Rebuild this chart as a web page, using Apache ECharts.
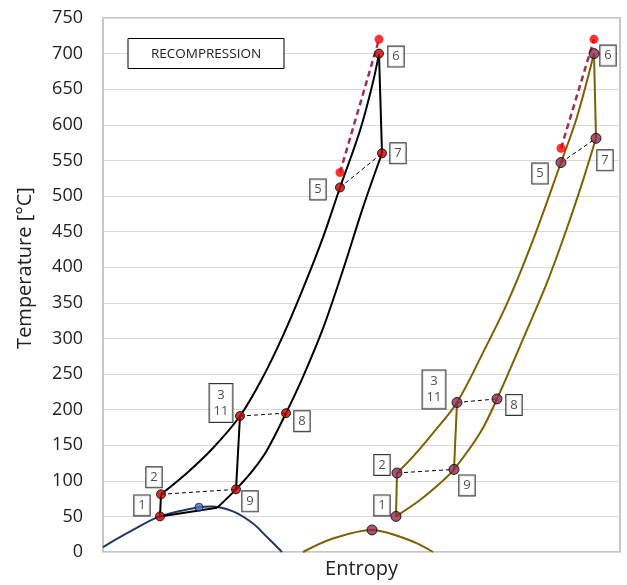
<!DOCTYPE html>
<html>
<head>
<meta charset="utf-8">
<script src="https://cdn.jsdelivr.net/npm/echarts@6/dist/echarts.min.js"></script>
<style>
  html, body { margin: 0; padding: 0; background: #fff; }
  #chart { width: 627px; height: 585px; }
</style>
</head>
<body>
<div id="chart"></div>
<script>
// Entropy in arbitrary units, temperature in °C.

// Saturation domes
const domeA = [[0.00, 7], [0.30, 31], [0.57, 50], [0.96, 63], [1.08, 64], [1.30, 57], [1.50, 40], [1.64, 21], [1.79, 0]];
const domeB = [[2.00, 0], [2.30, 19], [2.69, 31], [2.97, 21.5], [3.14, 12], [3.30, 0]];
const critA = [[0.96, 63]];
const critB = [[2.69, 31]];

// Cycle state points
const stateLabels = ['1', '2', '3\n11', '5', '6', '7', '8', '9'];
const sA = [0.57, 0.58, 1.37, 2.37, 2.76, 2.79, 1.83, 1.33];
const tA = [50, 81, 191, 512, 700, 560, 195, 88];
const sB = [2.93, 2.94, 3.54, 4.58, 4.91, 4.93, 3.94, 3.51];
const tB = [50, 111, 210, 547, 700, 581, 215, 116];

// Isentropic end states (ideal expansion)
const idealA = [[2.37, 533], [2.76, 720]];
const idealB = [[4.58, 567], [4.91, 720]];

// High-pressure isobar, 2 -> 6
const hpA = [[0.58, 81], [0.84, 111], [1.10, 146], [1.37, 191], [1.60, 246], [1.80, 304], [2.00, 370], [2.20, 442], [2.37, 512], [2.57, 592], [2.70, 660], [2.76, 700]];
const hpB = [[2.94, 111], [3.10, 134], [3.30, 167], [3.54, 210], [3.80, 280], [4.05, 352], [4.30, 438], [4.58, 547], [4.74, 611], [4.91, 700]];

// Low-pressure isobar, 1 -> 7
const lpKneeA = [[0.57, 50], [1.14, 62]];
const lpA = [[1.14, 62], [1.33, 88], [1.50, 115], [1.64, 143], [1.83, 195], [2.00, 246], [2.20, 314], [2.40, 396], [2.60, 484], [2.79, 560]];
const lpB = [[2.93, 50], [3.17, 73], [3.37, 96.5], [3.51, 116], [3.77, 167], [3.94, 215], [4.24, 312], [4.45, 382], [4.64, 455], [4.80, 522], [4.93, 581]];

// Label box placement around each state marker (pixels)
const labelOffsetA = { '1': [-18, -11], '2': [-7, -17], '3\n11': [-19, -13], '5': [-22, 2], '6': [17, 3], '7': [16, 0], '8': [16, 8], '9': [14, 12] };
const labelOffsetB = { '1': [-14, -11], '2': [-15, -8], '3\n11': [-23, -13], '5': [-21, 11], '6': [14, 2], '7': [9, 22], '8': [17, 6], '9': [13, 16] };

const FONT = '"Open Sans", "Noto Sans", sans-serif';
const BLACK = '#000000';
const GOLD = '#7F6000';
const BLUE = '#203864';
const MAROON = '#A0304F';

function state(s, t, key) {
  const i = stateLabels.indexOf(key);
  return [s[i], t[i]];
}

function curve(data, color, width, smooth) {
  return {
    type: 'line', data: data, showSymbol: false, smooth: smooth ? 0.35 : false,
    lineStyle: { color: color, width: width }, silent: true, z: 3
  };
}

function dashed(data, color, width, dash) {
  return {
    type: 'line', data: data, showSymbol: false,
    lineStyle: { color: color, width: width, type: dash }, silent: true, z: 4
  };
}

function statePoints(s, t, offsets, fill, size) {
  return {
    type: 'scatter', symbolSize: size, z: 10,
    itemStyle: { color: fill, borderColor: '#000', borderWidth: 1 },
    data: stateLabels.map((k, i) => ({
      value: [s[i], t[i]],
      label: {
        show: true, position: 'inside', formatter: k, offset: offsets[k],
        color: '#222', fontFamily: FONT, fontSize: 13, lineHeight: 16,
        backgroundColor: '#fff', borderColor: '#000', borderWidth: 1,
        padding: k.indexOf('\n') >= 0 ? [3, 4, 3, 4] : [2, 4, 2, 4], align: 'center'
      }
    }))
  };
}

const chart = echarts.init(document.getElementById('chart'), null, { renderer: 'canvas' });

chart.setOption({
  animation: false,
  backgroundColor: '#fff',
  grid: {
    left: 103, right: 7, top: 18, bottom: 33, show: true,
    borderColor: '#b4b4b4', borderWidth: 1.5, containLabel: false, outerBoundsMode: 'none'
  },
  xAxis: {
    type: 'value', min: 0, max: 5.17,
    axisLine: { show: false }, axisTick: { show: false }, axisLabel: { show: false }, splitLine: { show: false },
    name: 'Entropy', nameLocation: 'middle', nameGap: 7,
    nameTextStyle: { fontFamily: FONT, fontSize: 20, color: '#222', verticalAlign: 'top' }
  },
  yAxis: {
    type: 'value', min: 0, max: 750, interval: 50,
    axisLine: { show: false }, axisTick: { show: false },
    axisLabel: { fontFamily: FONT, fontSize: 18, color: '#222', margin: 20 },
    splitLine: { lineStyle: { color: '#d9d9d9', width: 1 } }
  },
  graphic: [
    {
      type: 'text', x: 25, y: 268, rotation: Math.PI / 2,
      style: { text: 'Temperature [°C]', font: '20px ' + FONT, fill: '#222', align: 'center', verticalAlign: 'middle' }
    },
    {
      type: 'rect', shape: { x: 128, y: 38.5, width: 156, height: 30 },
      style: { fill: '#fff', stroke: '#000', lineWidth: 1 }, z: 20
    },
    {
      type: 'text', x: 206, y: 54, z: 21,
      style: { text: 'RECOMPRESSION', font: '13.5px ' + FONT, fill: '#222', align: 'center', verticalAlign: 'middle' }
    }
  ],
  series: [
    // domes
    curve(domeA, BLUE, 2, true),
    curve(domeB, GOLD, 2, true),

    // left cycle
    curve(hpA, BLACK, 2, true),
    curve(lpKneeA, BLACK, 2, false),
    curve(lpA, BLACK, 2, true),
    curve([state(sA, tA, '1'), state(sA, tA, '2')], BLACK, 2, false),
    curve([state(sA, tA, '9'), state(sA, tA, '3\n11')], BLACK, 2, false),
    curve([state(sA, tA, '6'), state(sA, tA, '7')], BLACK, 2, false),
    dashed([state(sA, tA, '2'), state(sA, tA, '9')], '#000', 1, [4, 3]),
    dashed([state(sA, tA, '3\n11'), state(sA, tA, '8')], '#000', 1, [4, 3]),
    dashed([state(sA, tA, '5'), state(sA, tA, '7')], '#000', 1, [4, 3]),
    dashed(idealA, MAROON, 2.5, [6, 4]),

    // right cycle
    curve(hpB, GOLD, 2, true),
    curve(lpB, GOLD, 2, true),
    curve([state(sB, tB, '1'), state(sB, tB, '2')], GOLD, 2, false),
    curve([state(sB, tB, '9'), state(sB, tB, '3\n11')], GOLD, 2, false),
    curve([state(sB, tB, '6'), state(sB, tB, '7')], GOLD, 2, false),
    dashed([state(sB, tB, '2'), state(sB, tB, '9')], '#000', 1, [4, 3]),
    dashed([state(sB, tB, '3\n11'), state(sB, tB, '8')], '#000', 1, [4, 3]),
    dashed([state(sB, tB, '5'), state(sB, tB, '7')], '#000', 1, [4, 3]),
    dashed(idealB, MAROON, 2.5, [6, 4]),

    // markers
    { type: 'scatter', data: idealA.concat(idealB), symbolSize: 9, itemStyle: { color: '#FF0000' }, z: 9 },
    { type: 'scatter', data: critA, symbolSize: 8, itemStyle: { color: '#4472C4', borderColor: '#000', borderWidth: 0.8 }, z: 9 },
    { type: 'scatter', data: critB, symbolSize: 10, itemStyle: { color: '#8C2A4E', borderColor: '#000', borderWidth: 1 }, z: 9 },
    statePoints(sA, tA, labelOffsetA, '#C00000', 9),
    statePoints(sB, tB, labelOffsetB, '#8C2A4E', 10)
  ]
});
</script>
</body>
</html>
